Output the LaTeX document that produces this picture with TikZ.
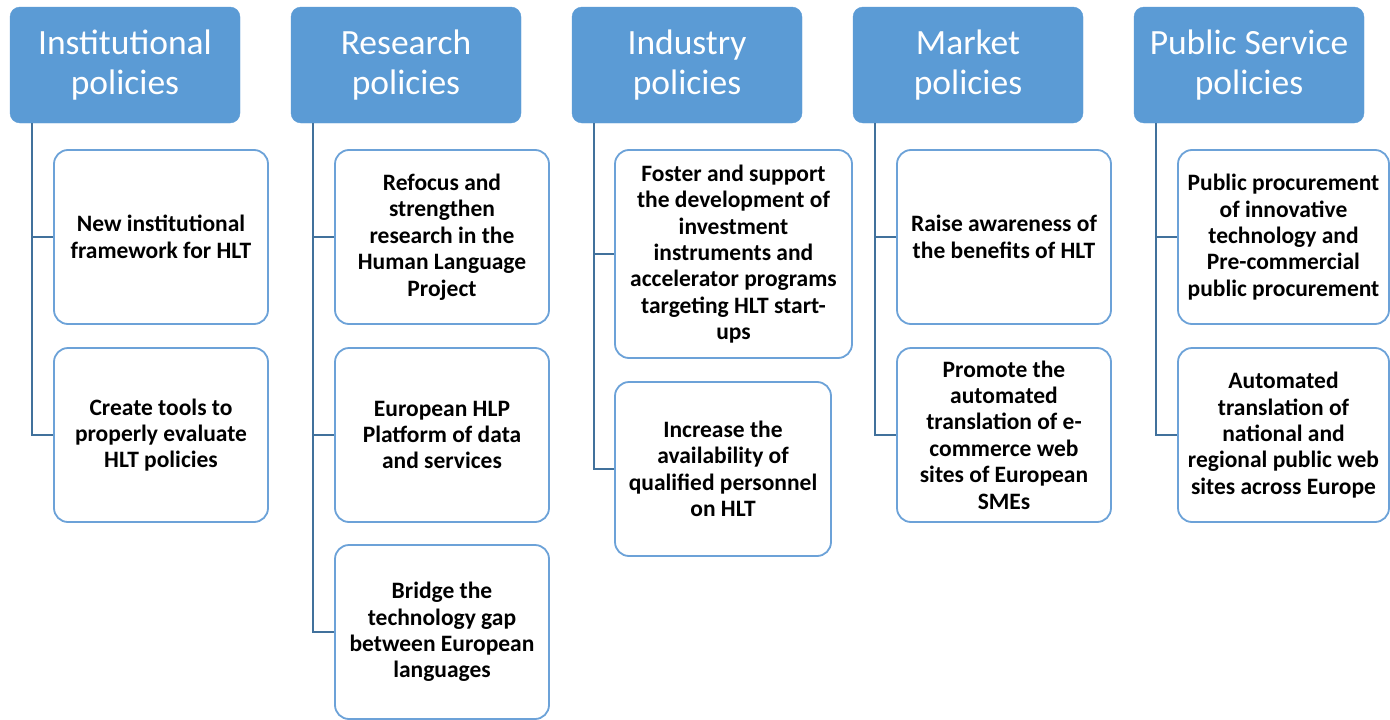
\documentclass[tikz,border=0pt]{standalone}
\usepackage{fontspec}
\setmainfont{Carlito}
\definecolor{hdrblue}{HTML}{5B9BD5}
\definecolor{boxblue}{HTML}{6CA2D8}
\definecolor{linkblue}{HTML}{41719C}
\tikzset{
  header/.style={fill=hdrblue, draw=hdrblue, rounded corners=10pt, text=white,
    minimum width=230pt, minimum height=116pt, align=center,
    font=\fontsize{35.5}{40}\selectfont},
  item/.style={fill=white, draw=boxblue, line width=1.8pt, rounded corners=14pt,
    minimum width=214pt, minimum height=174pt, align=center,
    font=\bfseries\fontsize{23.5}{26.4}\selectfont},
  link/.style={draw=linkblue, line width=2.5pt}
}
\begin{document}
\begin{tikzpicture}[x=1pt,y=-1pt]
  \useasboundingbox (0,0) rectangle (1390,720);
  % column headers
  \node[header] (inst)   at (125,65)  {Institutional\\policies};
  \node[header] (res)    at (406,65)  {Research\\policies};
  \node[header] (ind)    at (687,65)  {Industry\\policies};
  \node[header] (mkt)    at (968,65)  {Market\\policies};
  \node[header] (pub)    at (1249,65) {Public Service\\policies};
  % trunk tops
  \coordinate (instT) at (32,123);
  \coordinate (resT)  at (313,123);
  \coordinate (indT)  at (594,123);
  \coordinate (mktT)  at (875,123);
  \coordinate (pubT)  at (1156,123);
  % institutional
  \node[item] (instA) at (161,237) {New institutional\\framework for HLT};
  \node[item] (instB) at (161,435) {Create tools to\\properly evaluate\\HLT policies};
  % research
  \node[item] (resA) at (442,237) {Refocus and\\strengthen\\research in the\\Human Language\\Project};
  \node[item] (resB) at (442,435) {European HLP\\Platform of data\\and services};
  \node[item] (resC) at (442,632) {Bridge the\\technology gap\\between European\\languages};
  % industry
  \node[item, minimum width=237pt, minimum height=208pt] (indA) at (733.5,254)
    {Foster and support\\the development of\\investment\\instruments and\\accelerator programs\\targeting HLT start-\\ups};
  \node[item, minimum width=216pt] (indB) at (723,469)
    {Increase the\\availability of\\qualified personnel\\on HLT};
  % market
  \node[item] (mktA) at (1004,237) {Raise awareness of\\the benefits of HLT};
  \node[item] (mktB) at (1004,435) {Promote the\\automated\\translation of e-\\commerce web\\sites of European\\SMEs};
  % public service
  \node[item, minimum width=211pt] (pubA) at (1283.5,237) {Public procurement\\of innovative\\technology and\\Pre-commercial\\public procurement};
  \node[item, minimum width=211pt] (pubB) at (1283.5,435) {Automated\\translation of\\national and\\regional public web\\sites across Europe};
  % connectors
  \draw[link] (instT) |- (instA.west);
  \draw[link] (instT) |- (instB.west);
  \draw[link] (resT) |- (resA.west);
  \draw[link] (resT) |- (resB.west);
  \draw[link] (resT) |- (resC.west);
  \draw[link] (indT) |- (indA.west);
  \draw[link] (indT) |- (indB.west);
  \draw[link] (mktT) |- (mktA.west);
  \draw[link] (mktT) |- (mktB.west);
  \draw[link] (pubT) |- (pubA.west);
  \draw[link] (pubT) |- (pubB.west);
\end{tikzpicture}
\end{document}
